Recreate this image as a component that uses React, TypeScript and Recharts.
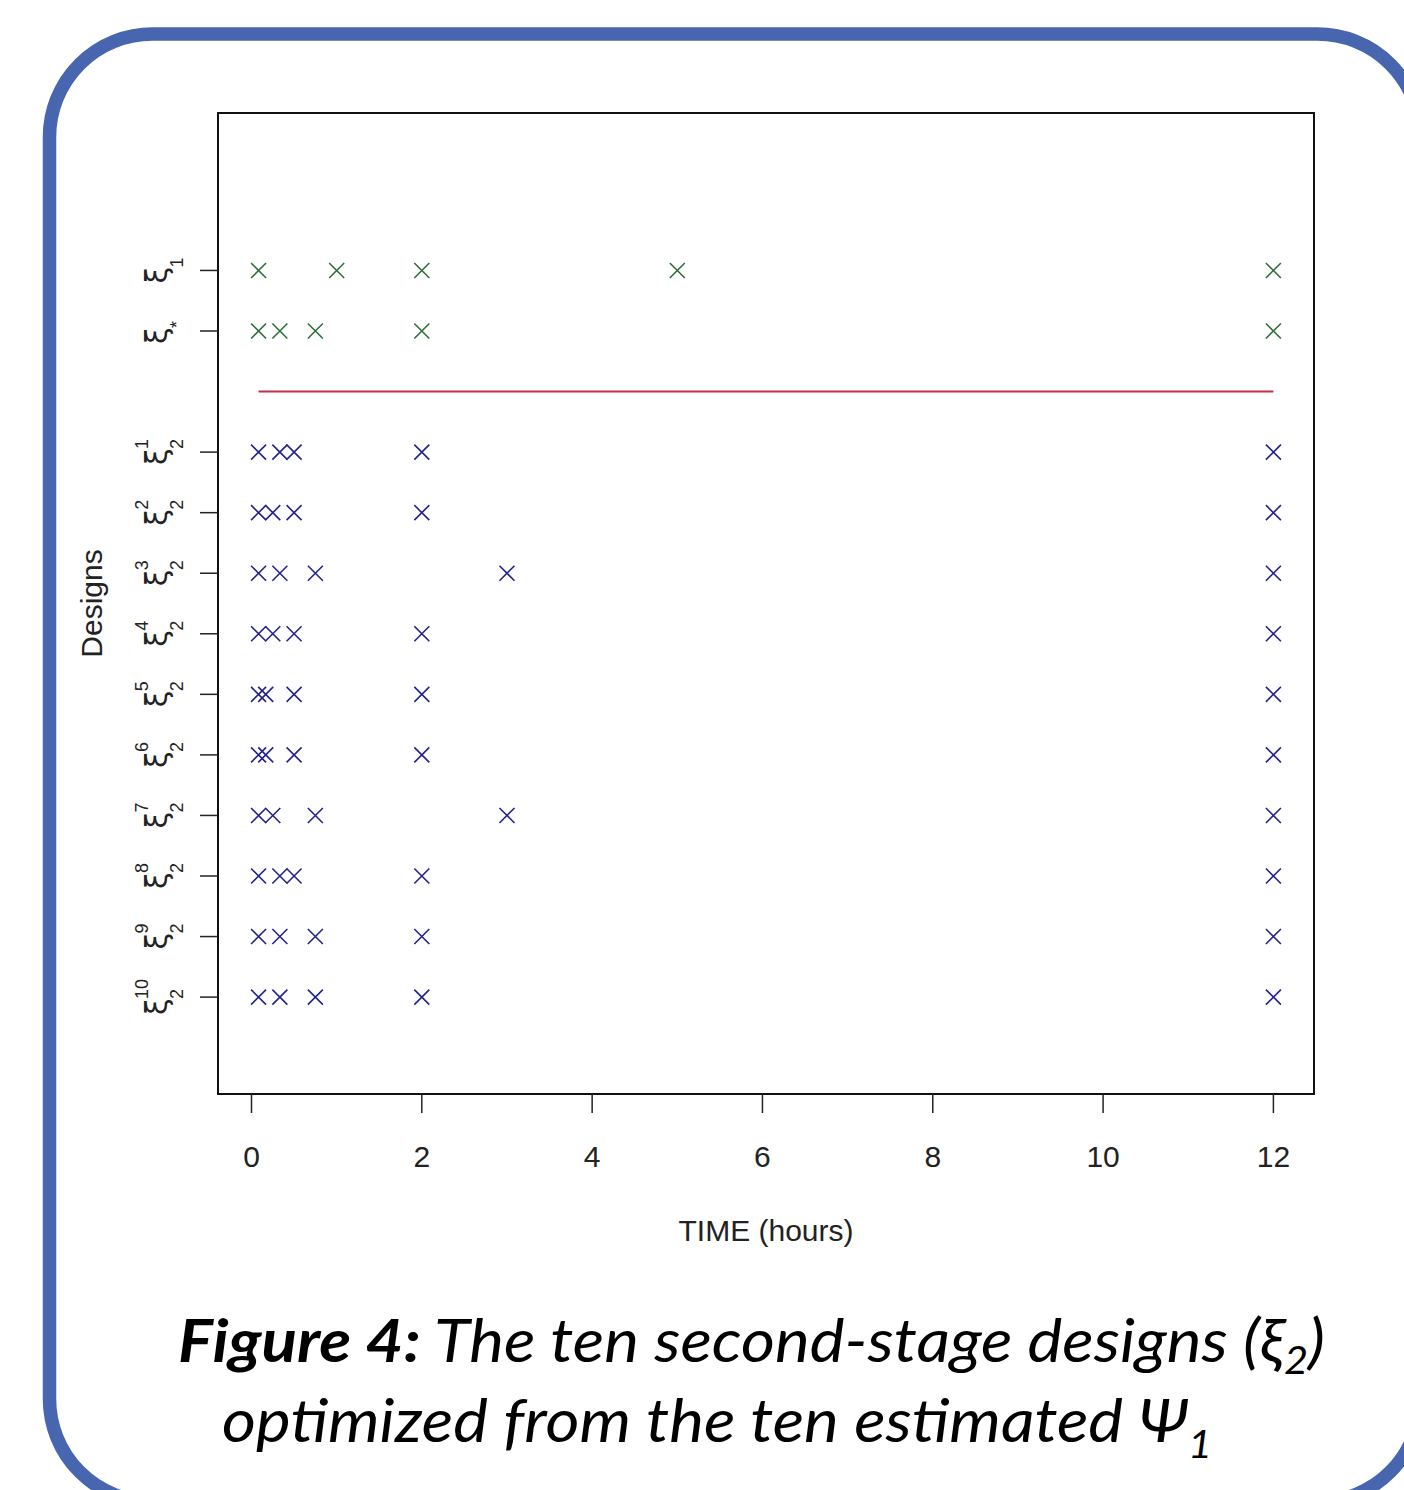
import { ScatterChart, Scatter, XAxis, YAxis, ReferenceArea, ReferenceLine } from "recharts";

// sampling times (hours) of each design
const xi1Times = [0.083, 1, 2, 5, 12];
const xiStarTimes = [0.083, 0.333, 0.75, 2, 12];
const xi2Run1 = [0.083, 0.333, 0.5, 2, 12];
const xi2Run2 = [0.083, 0.25, 0.5, 2, 12];
const xi2Run3 = [0.083, 0.333, 0.75, 3, 12];
const xi2Run4 = [0.083, 0.25, 0.5, 2, 12];
const xi2Run5 = [0.083, 0.167, 0.5, 2, 12];
const xi2Run6 = [0.083, 0.167, 0.5, 2, 12];
const xi2Run7 = [0.083, 0.25, 0.75, 3, 12];
const xi2Run8 = [0.083, 0.333, 0.5, 2, 12];
const xi2Run9 = [0.083, 0.333, 0.75, 2, 12];
const xi2Run10 = [0.083, 0.333, 0.75, 2, 12];
const xi2Runs = [xi2Run1, xi2Run2, xi2Run3, xi2Run4, xi2Run5, xi2Run6, xi2Run7, xi2Run8, xi2Run9, xi2Run10];

// row level of each design on the y axis
const xi1Level = 13;
const xiStarLevel = 12;
const separatorLevel = 11;
const separatorSpan = [0.083, 12];

const timeTicks = [0, 2, 4, 6, 8, 10, 12];
const designLevels = [13, 12, 10, 9, 8, 7, 6, 5, 4, 3, 2, 1];
const designSubs = ["1", "*", "2", "2", "2", "2", "2", "2", "2", "2", "2", "2"];
const designSups = ["", "", "1", "2", "3", "4", "5", "6", "7", "8", "9", "10"];

const xDomain = [-0.3934, 12.4767];
const yDomain = [-0.6, 15.6];

const greenPoints = [
  ...xi1Times.map((t) => ({ time: t, design: xi1Level })),
  ...xiStarTimes.map((t) => ({ time: t, design: xiStarLevel })),
];
const bluePoints = xi2Runs.flatMap((run, i) =>
  run.map((t) => ({ time: t, design: separatorLevel - 1 - i }))
);

const AXIS_FONT = "'Liberation Sans', Arial, sans-serif";

function cross(color: string) {
  return (props: any) => {
    const { cx, cy } = props;
    const h = 7.5;
    return (
      <path
        d={`M${cx - h},${cy - h}L${cx + h},${cy + h}M${cx - h},${cy + h}L${cx + h},${cy - h}`}
        stroke={color}
        strokeWidth={1.6}
        fill="none"
      />
    );
  };
}

function DesignTick(props: any) {
  const { x, y, payload } = props;
  const idx = designLevels.indexOf(payload.value);
  if (idx < 0) return null;
  const sub = designSubs[idx];
  const sup = designSups[idx];
  const scriptW = Math.max(sub.length, sup.length) * 10;
  const xiW = 16;
  const start = -(xiW + scriptW) / 2;
  return (
    <g transform={`translate(${x - 33},${y}) rotate(-90)`} fill="#222" fontFamily={AXIS_FONT}>
      <text x={start} y={0} style={{ fontSize: 30, fontFamily: "'DejaVu Sans', sans-serif" }}>ξ</text>
      <text x={start + xiW} y={16} style={{ fontSize: 18 }}>{sub}</text>
      {sup && <text x={start + xiW} y={-19} style={{ fontSize: 18 }}>{sup}</text>}
    </g>
  );
}

export default function App() {
  return (
    <div style={{ position: "absolute", left: 0, top: 0, width: 1404, height: 1490, background: "#fff", overflow: "hidden" }}>
      <svg width={1404} height={1490} style={{ position: "absolute", left: 0, top: 0 }}>
        <rect x={49.5} y={34} width={1371} height={1468} rx={103} ry={103} fill="none" stroke="#4866AF" strokeWidth={13.5} />
      </svg>
      <div style={{ position: "absolute", left: 0, top: 0 }}>
        <ScatterChart width={1404} height={1490} margin={{ top: 113, right: 90, bottom: 336, left: 0 }}>
          <XAxis
            type="number"
            dataKey="time"
            domain={xDomain}
            ticks={timeTicks}
            allowDataOverflow
            axisLine={false}
            tickSize={19}
            tickMargin={33}
            tickLine={{ stroke: "#222", strokeWidth: 1.5 }}
            tick={{ fontSize: 30, fill: "#222", fontFamily: AXIS_FONT }}
            height={60}
            label={{ value: "TIME (hours)", position: "bottom", offset: 66, fontSize: 30, fill: "#222", fontFamily: AXIS_FONT }}
          />
          <YAxis
            type="number"
            dataKey="design"
            domain={yDomain}
            ticks={designLevels}
            allowDataOverflow
            axisLine={false}
            tickSize={18}
            tickMargin={0}
            tickLine={{ stroke: "#222", strokeWidth: 1.5 }}
            tick={<DesignTick />}
            width={218}
            label={{ value: "Designs", angle: -90, position: "insideLeft", offset: 91, fontSize: 30, fill: "#222", fontFamily: AXIS_FONT, style: { textAnchor: "middle" } }}
          />
          <ReferenceArea x1={xDomain[0]} x2={xDomain[1]} y1={yDomain[0]} y2={yDomain[1]} fill="none" stroke="#111" strokeWidth={2} ifOverflow="visible" />
          <ReferenceLine
            segment={[{ x: separatorSpan[0], y: separatorLevel }, { x: separatorSpan[1], y: separatorLevel }]}
            stroke="#c42f48"
            strokeWidth={2}
            ifOverflow="visible"
          />
          <Scatter data={greenPoints} fill="#2f6f3a" shape={cross("#2f6f3a")} isAnimationActive={false} />
          <Scatter data={bluePoints} fill="#23238a" shape={cross("#23238a")} isAnimationActive={false} />
        </ScatterChart>
      </div>
      <svg width={1404} height={1490} style={{ position: "absolute", left: 0, top: 0, pointerEvents: "none" }}>
        <g fontFamily="Lato, 'Open Sans', sans-serif" fontStyle="italic" fill="#000">
          <text x={178} y={1362} fontSize={60} textLength={1147} lengthAdjust="spacingAndGlyphs">
            <tspan fontWeight={700}>Figure 4:</tspan>
            {" The ten second-stage designs (ξ"}
            <tspan fontSize={38} dy={12}>2</tspan>
            <tspan dy={-12}>)</tspan>
          </text>
          <text x={222} y={1442} fontSize={60} textLength={990} lengthAdjust="spacingAndGlyphs">
            {"optimized from the ten estimated Ψ"}
            <tspan fontSize={38} dy={16}>1</tspan>
          </text>
        </g>
      </svg>
    </div>
  );
}
